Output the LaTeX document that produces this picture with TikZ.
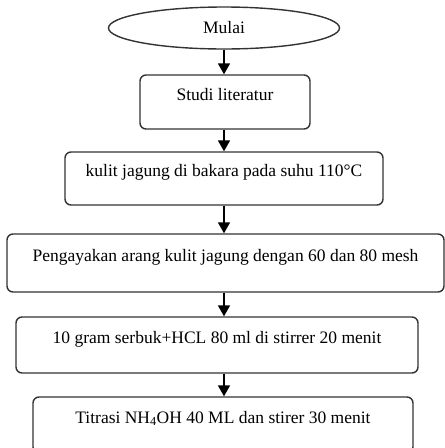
\documentclass[tikz,border=0pt]{standalone}
\usepackage{fontspec}
\setmainfont{Liberation Serif}
\usetikzlibrary{arrows.meta,shapes.geometric}

\begin{document}
\begin{tikzpicture}[x=1pt,y=1pt,>={Triangle[length=11pt,width=12pt]},
  step box/.style={rectangle,rounded corners=6pt,draw=black!80,line width=1.4pt,
    font=\fontsize{17.5}{20}\selectfont,text height=12pt,text depth=16pt},
  start node/.style={ellipse,draw=black!80,line width=1.4pt,inner sep=0pt,
    font=\fontsize{17.5}{20}\selectfont},
  flow/.style={->,line width=1.6pt}]

  \useasboundingbox (0,0) rectangle (445,-448);

  \node[start node,minimum width=231pt,minimum height=42pt] (MU) at (224,-28) {Mulai};
  \node[step box,minimum width=170pt,minimum height=54pt] (SL) at (225,-102) {Studi literatur};
  \node[step box,minimum width=318pt,minimum height=53pt] (KJ) at (224,-178.5) {kulit jagung di bakara pada suhu 110°C};
  \node[step box,minimum width=437pt,minimum height=58pt] (PA) at (225.5,-263) {Pengayakan arang kulit jagung dengan 60 dan 80 mesh};
  \node[step box,minimum width=402pt,minimum height=56pt] (SB) at (217,-345) {10 gram serbuk+HCL 80 ml di stirrer 20 menit};
  \node[step box,minimum width=380pt,minimum height=56pt] (TN) at (223,-425) {Titrasi NH\textsubscript{4}OH 40 ML dan stirer 30 menit};

  \draw[flow] (MU.south) -- (MU.south |- SL.north);
  \draw[flow] (MU.south |- SL.south) -- (MU.south |- KJ.north);
  \draw[flow] (MU.south |- KJ.south) -- (MU.south |- PA.north);
  \draw[flow] (MU.south |- PA.south) -- (MU.south |- SB.north);
  \draw[flow] (MU.south |- SB.south) -- (MU.south |- TN.north);
\end{tikzpicture}
\end{document}
